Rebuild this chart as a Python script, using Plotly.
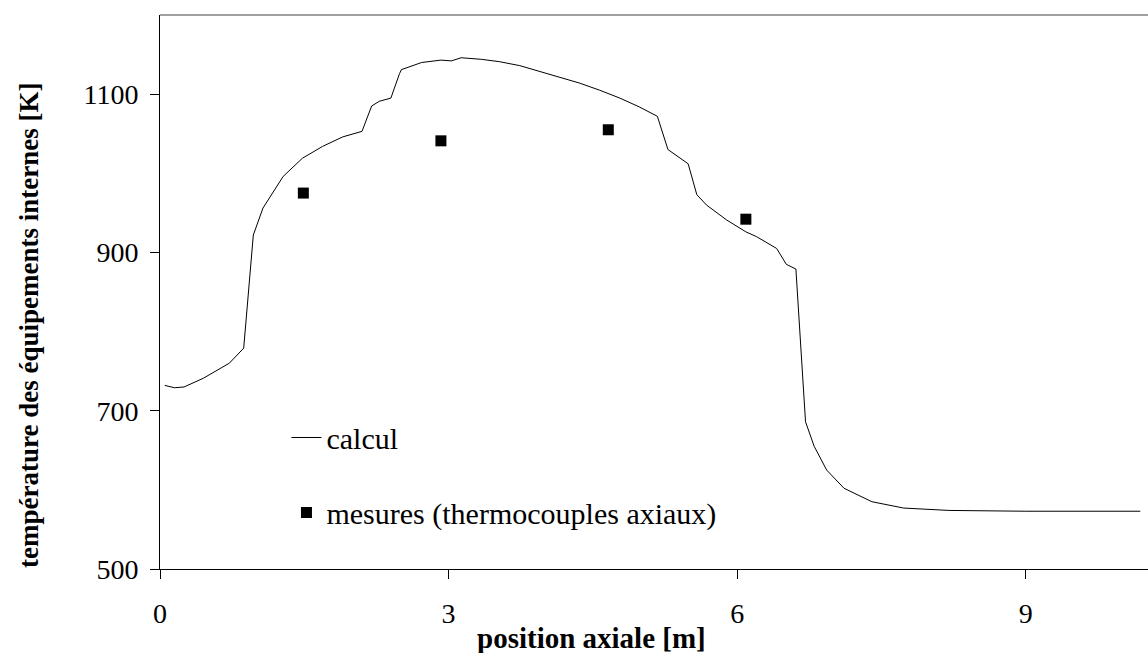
import plotly.graph_objects as go

# Calculated internal-structure temperature along the axial position
calc_x = [0.05, 0.15, 0.25, 0.45, 0.72, 0.87, 0.97, 1.07, 1.28, 1.48, 1.69, 1.90, 2.10,
          2.20, 2.28, 2.40, 2.49, 2.51, 2.72, 2.92, 3.03, 3.13, 3.34, 3.53, 3.74, 3.94,
          4.15, 4.36, 4.57, 4.78, 4.98, 5.17, 5.28, 5.49, 5.58, 5.68, 5.89, 6.09, 6.20,
          6.41, 6.51, 6.61, 6.71, 6.80, 6.93, 7.11, 7.40, 7.73, 8.20, 9.00, 10.19]
calc_t = [732, 729, 730, 741, 760, 779, 922, 956, 996, 1019, 1034, 1046, 1053,
          1085, 1091, 1095, 1126, 1131, 1140, 1143, 1142, 1146, 1144, 1141, 1136, 1129,
          1121, 1114, 1105, 1095, 1084, 1072, 1030, 1012, 973, 960, 941, 926, 920,
          905, 885, 879, 686, 655, 625, 602, 585, 577, 574, 573, 573]

# Axial thermocouple measurements
meas_x = [1.49, 2.92, 4.66, 6.09]
meas_t = [975, 1041, 1055, 942]

x_ticks = [0, 3, 6, 9]
y_ticks = [500, 700, 900, 1100]

FONT = "Liberation Serif"
PLOT_W, PLOT_H = 988, 554   # plot area size in pixels
LEFT, BOTTOM = 160, 569     # plot area origin in pixels

fig = go.Figure()
fig.add_trace(go.Scatter(
    x=calc_x, y=calc_t, mode="lines", name="calcul",
    line=dict(color="black", width=1), legendgroup="a",
))
fig.add_trace(go.Scatter(
    x=meas_x, y=meas_t, mode="markers", name="mesures (thermocouples axiaux)",
    marker=dict(symbol="square", size=11, color="black"), legendgroup="b",
))

fig.update_layout(
    width=1148, height=653,
    margin=dict(l=160, r=0, t=15, b=84),
    paper_bgcolor="white", plot_bgcolor="white",
    font=dict(family=FONT, size=28, color="black"),
    showlegend=True,
    legend=dict(
        x=0.128, y=(BOTTOM - 475) / PLOT_H, xanchor="left", yanchor="middle",
        bgcolor="rgba(0,0,0,0)", borderwidth=0,
        font=dict(family=FONT, size=30, color="black"),
        itemwidth=30, tracegroupgap=33, traceorder="grouped",
    ),
    xaxis=dict(
        range=[0, 10.27], tickvals=x_ticks, ticktext=[str(v) for v in x_ticks],
        showgrid=False, zeroline=False, showline=True, linecolor="black", linewidth=1,
        ticks="outside", ticklen=9, tickcolor="black", ticklabelstandoff=10,
    ),
    yaxis=dict(
        range=[500, 1200], tickvals=y_ticks, ticktext=[str(v) for v in y_ticks],
        showgrid=False, zeroline=False, showline=True, linecolor="black", linewidth=1,
        ticks="outside", ticklen=9, tickcolor="black", ticklabelstandoff=6,
    ),
    shapes=[dict(type="line", xref="paper", yref="paper", x0=0, x1=1, y0=1, y1=1,
                 line=dict(color="#808080", width=1.5))],
    annotations=[
        dict(text="<b>position axiale [m]</b>", xref="paper", yref="paper",
             x=(591 - LEFT) / PLOT_W, y=-(638 - BOTTOM) / PLOT_H,
             xanchor="center", yanchor="middle",
             showarrow=False, font=dict(family=FONT, size=29)),
        dict(text="<b>température des équipements internes [K]</b>", xref="paper", yref="paper",
             x=-(LEFT - 29) / PLOT_W, y=(BOTTOM - 326) / PLOT_H,
             xanchor="center", yanchor="middle",
             textangle=-90, showarrow=False, font=dict(family=FONT, size=27)),
    ],
)

fig.write_html("out.html")
